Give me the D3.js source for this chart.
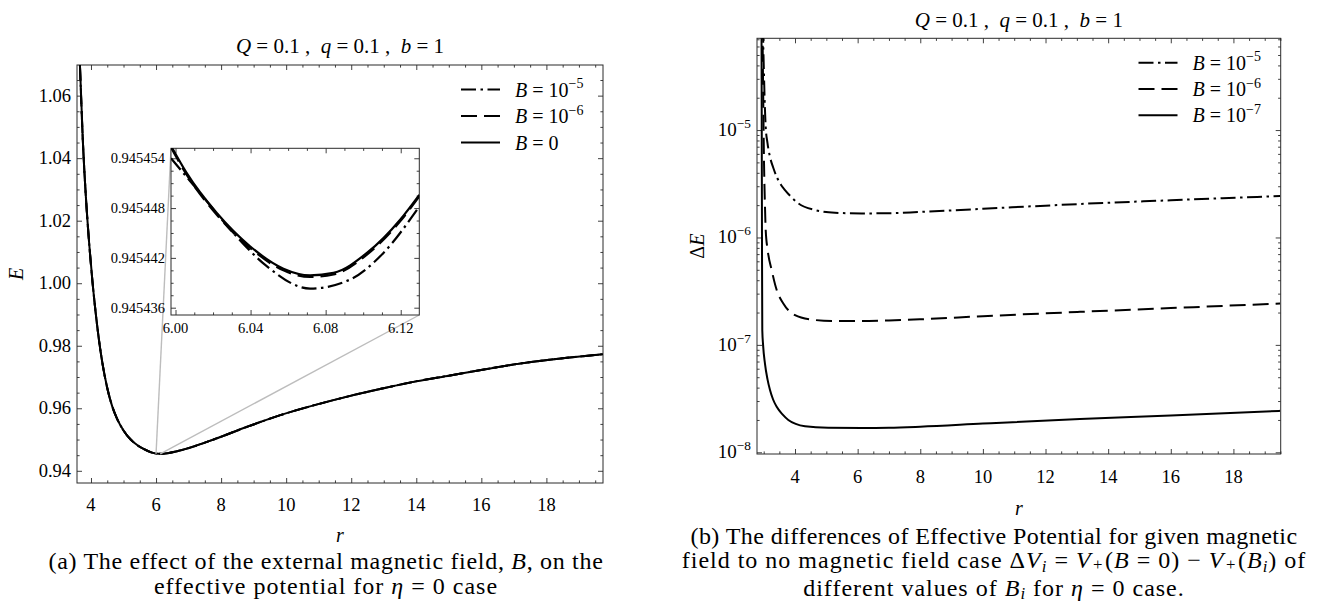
<!DOCTYPE html>
<html>
<head>
<meta charset="utf-8">
<script src="https://cdn.jsdelivr.net/npm/d3@7"></script>
<style>
  body { margin: 0; background: #fff; }
  svg text { font-family: "Liberation Serif", "Times New Roman", serif; fill: #000; white-space: pre; }
</style>
</head>
<body>
<div id="chart"></div>
<script>

// ---------- data ----------

// (a) main panel: E(r); the three B curves coincide at this scale
var rMain = [3.66, 3.75, 3.85, 3.95, 4.05, 4.15, 4.25, 4.35, 4.50, 4.65, 4.80, 5.00, 5.22, 5.45, 5.63, 5.85, 6.07,
             6.35, 6.70, 7.74, 8.78, 9.82, 10.87, 11.91, 12.95, 13.99, 15.04, 16.08, 17.12, 18.16, 19.77];
var eMain = [1.0698, 1.0455, 1.0265, 1.0120, 1.0000, 0.9900, 0.9815, 0.9745, 0.9665, 0.9607, 0.9567, 0.9529, 0.9500, 0.9480, 0.9469, 0.9459, 0.94544,
             0.94563, 0.9464, 0.9499, 0.9540, 0.9578, 0.9610, 0.9638, 0.9663, 0.9686, 0.9705, 0.9724, 0.9742, 0.9756, 0.9773];

// (a) inset near the minimum
var rInset = [5.9976, 6.006, 6.022, 6.0397, 6.0575, 6.0717, 6.0842, 6.102, 6.1197, 6.1299];
var eInsetB0 = [0.9454555, 0.9454522, 0.9454474, 0.9454434, 0.9454407, 0.9454399, 0.9454402, 0.9454426, 0.9454466, 0.9454496];
var eInsetB6 = [0.9454553, 0.9454520, 0.9454472, 0.9454432, 0.9454405, 0.9454397, 0.9454400, 0.9454424, 0.9454464, 0.9454494];
var rInsetB5 = [5.9976, 6.0131, 6.0308, 6.0486, 6.0717, 6.0931, 6.1108, 6.1299];
var eInsetB5 = [0.9454540, 0.9454498, 0.9454450, 0.9454410, 0.9454383, 0.9454394, 0.9454426, 0.9454482];

// (b) Delta E(r) for each B
var rDiffB5 = [2.975, 2.99, 3.01, 3.035, 3.064, 3.12, 3.20, 3.30, 3.415, 3.55, 3.68, 3.90, 4.105, 4.638, 5.277, 6.13, 7.0, 8.0, 10.0, 13.1, 16.0, 19.49];
var dDiffB5 = [9e-5, 5.5e-5, 3.2e-5, 1.7e-5, 1.07e-5, 7.6e-6, 5.64e-6, 4.5e-6, 3.67e-6, 3.1e-6, 2.76e-6, 2.35e-6, 2.08e-6, 1.80e-6, 1.70e-6, 1.675e-6, 1.68e-6, 1.73e-6, 1.85e-6, 2.05e-6, 2.22e-6, 2.43e-6];
var rDiffB6 = [2.96, 2.985, 3.01, 3.04, 3.064, 3.128, 3.255, 3.415, 3.626, 4.0, 4.53, 5.17, 6.13, 7.0, 8.0, 10.0, 13.1, 16.0, 19.49];
var dDiffB6 = [1e-4, 2e-5, 5e-6, 2e-6, 1.17e-6, 7.6e-7, 4.97e-7, 3.24e-7, 2.43e-7, 1.89e-7, 1.72e-7, 1.67e-7, 1.67e-7, 1.69e-7, 1.73e-7, 1.85e-7, 2.03e-7, 2.2e-7, 2.43e-7];
var rDiffB7 = [2.93, 2.945, 2.955, 2.98, 3.04, 3.12, 3.201, 3.30, 3.415, 3.60, 3.786, 4.32, 5.06, 6.13, 7.0, 8.0, 10.0, 13.1, 16.0, 19.49];
var dDiffB7 = [1e-4, 1e-6, 1.37e-7, 1e-7, 6.7e-8, 4.8e-8, 3.8e-8, 3.1e-8, 2.65e-8, 2.25e-8, 2.0e-8, 1.75e-8, 1.69e-8, 1.68e-8, 1.69e-8, 1.73e-8, 1.85e-8, 2.04e-8, 2.2e-8, 2.43e-8];

// ticks
var xTicksMain = [4, 6, 8, 10, 12, 14, 16, 18];
var yTicksMain = [0.94, 0.96, 0.98, 1.00, 1.02, 1.04, 1.06];
var xTicksInset = [6.00, 6.04, 6.08, 6.12];
var yTicksInset = [0.945436, 0.945442, 0.945448, 0.945454];
var xTicksDiff = [4, 6, 8, 10, 12, 14, 16, 18];
var yTicksDiff = [-8, -7, -6, -5];   // powers of ten

// legends
var legendA = [{exp: "\u22125", dash: "dashdot"}, {exp: "\u22126", dash: "dashed"}, {exp: null, dash: "solid"}];
var legendB = [{exp: "\u22125", dash: "dashdot"}, {exp: "\u22126", dash: "dashed"}, {exp: "\u22127", dash: "solid"}];

// ---------- drawing ----------

var dashes = {dashdot: "15,4.5,2.5,4.5", dashed: "16,7", solid: null};
var frameColor = "#2b2b2b";

var svg = d3.select("#chart").append("svg")
    .attr("width", 1327)
    .attr("height", 606)
    .style("background", "#fff");

// writes a text made of pieces (italic / superscript / subscript)
function rich(text, parts, size) {
  var shift = 0;
  parts.forEach(function (p) {
    var target = p.sup ? -0.42 * size : (p.sub ? (p.low || 0.15) * size : 0);
    var ts = text.append("tspan").text(p.t).attr("dy", target - shift);
    if (p.i) ts.attr("font-style", "italic");
    if (p.sup || p.sub) ts.attr("font-size", size * 0.7);
    if (p.dx) ts.attr("dx", p.dx);
    shift = target;
  });
  return text;
}

function minorRange(a, b, step) {
  var out = [];
  for (var v = a; v <= b + step / 1000; v += step) out.push(+v.toFixed(9));
  return out;
}

// frame and inward ticks on all four sides
function frameTicks(g, x, y, w, h, xMaj, xMin, yMaj, yMin, big, small) {
  function add(axis, tr) {
    g.append("g").attr("transform", tr).call(axis)
      .call(function (s) { s.select(".domain").remove(); s.selectAll("text").remove(); })
      .selectAll("line").attr("stroke", frameColor).attr("stroke-width", 0.9);
  }
  add(d3.axisBottom(x).tickValues(xMaj).tickSize(-big), "translate(0," + h + ")");
  add(d3.axisBottom(x).tickValues(xMin).tickSize(-small), "translate(0," + h + ")");
  add(d3.axisTop(x).tickValues(xMaj).tickSize(-big), "translate(0,0)");
  add(d3.axisTop(x).tickValues(xMin).tickSize(-small), "translate(0,0)");
  add(d3.axisLeft(y).tickValues(yMaj).tickSize(-big), "translate(0,0)");
  add(d3.axisLeft(y).tickValues(yMin).tickSize(-small), "translate(0,0)");
  add(d3.axisRight(y).tickValues(yMaj).tickSize(-big), "translate(" + w + ",0)");
  add(d3.axisRight(y).tickValues(yMin).tickSize(-small), "translate(" + w + ",0)");
  g.append("rect").attr("width", w).attr("height", h)
    .attr("fill", "none").attr("stroke", frameColor).attr("stroke-width", 1);
}

function drawLine(g, x, y, rs, vs, dash, clipId, width) {
  var pts = rs.map(function (r, i) { return [r, vs[i]]; });
  g.append("path")
    .datum(pts)
    .attr("clip-path", "url(#" + clipId + ")")
    .attr("fill", "none")
    .attr("stroke", "#000")
    .attr("stroke-width", width || 2)
    .attr("stroke-dasharray", dashes[dash])
    .attr("d", d3.line().curve(d3.curveMonotoneX)
      .x(function (d) { return x(d[0]); })
      .y(function (d) { return y(d[1]); }));
}

function addClip(id, w, h) {
  svg.append("clipPath").attr("id", id).append("rect").attr("width", w).attr("height", h);
}

function legend(g, items, x0, y0, step) {
  items.forEach(function (it, i) {
    var yy = y0 + i * step;
    g.append("line").attr("x1", x0).attr("x2", x0 + 39).attr("y1", yy).attr("y2", yy)
      .attr("stroke", "#000").attr("stroke-width", 2).attr("stroke-dasharray", dashes[it.dash]);
    var t = g.append("text").attr("x", x0 + 54).attr("y", yy + 7).attr("font-size", 20);
    if (it.exp) rich(t, [{t: "B", i: true}, {t: " = 10"}, {t: it.exp, sup: true}], 20);
    else rich(t, [{t: "B", i: true}, {t: " = 0"}], 20);
  });
}

// ===== panel (a) =====
var A = {left: 77, top: 65, w: 526, h: 418};
var xA = d3.scaleLinear().domain([3.57, 19.74]).range([0, A.w]);
var yA = d3.scaleLinear().domain([0.9361, 1.0698]).range([A.h, 0]);
var gA = svg.append("g").attr("transform", "translate(" + A.left + "," + A.top + ")");
addClip("clipA", A.w, A.h);

frameTicks(gA, xA, yA, A.w, A.h, xTicksMain, minorRange(3.5, 19.5, 0.5).filter(function (v) { return v > 3.57 && v % 2 !== 0; }),
  yTicksMain, minorRange(0.945, 1.065, 0.005).filter(function (v) { return Math.round(v * 1000) % 20 !== 0; }), 5, 2.6);

drawLine(gA, xA, yA, rMain, eMain, "dashdot", "clipA");
drawLine(gA, xA, yA, rMain, eMain, "dashed", "clipA");
drawLine(gA, xA, yA, rMain, eMain, "solid", "clipA");

gA.selectAll(".xl").data(xTicksMain).enter().append("text")
  .attr("x", function (d) { return xA(d); }).attr("y", A.h + 28)
  .attr("text-anchor", "middle").attr("font-size", 18.5).text(function (d) { return d; });
gA.selectAll(".yl").data(yTicksMain).enter().append("text")
  .attr("x", -6).attr("y", function (d) { return yA(d) + 6; })
  .attr("text-anchor", "end").attr("font-size", 18.5).text(function (d) { return d.toFixed(2); });

// inset
var I = {left: 171 - A.left, top: 148.3 - A.top, w: 248.3, h: 166.7};
var xI = d3.scaleLinear().domain([5.9976, 6.1299]).range([0, I.w]);
var yI = d3.scaleLinear().domain([0.94543512, 0.9454552]).range([I.h, 0]);

// connector lines from the zoomed region to the inset corners
gA.append("line").attr("x1", xA(6.0)).attr("y1", yA(0.9454552)).attr("x2", I.left).attr("y2", I.top)
  .attr("stroke", "#bdbdbd").attr("stroke-width", 1.4);
gA.append("line").attr("x1", xA(6.1299)).attr("y1", yA(0.94543512)).attr("x2", I.left + I.w).attr("y2", I.top + I.h)
  .attr("stroke", "#bdbdbd").attr("stroke-width", 1.4);

var gI = gA.append("g").attr("transform", "translate(" + I.left + "," + I.top + ")");
addClip("clipI", I.w, I.h);
gI.append("rect").attr("width", I.w).attr("height", I.h).attr("fill", "#fff");
frameTicks(gI, xI, yI, I.w, I.h, xTicksInset, [6.01, 6.02, 6.03, 6.05, 6.06, 6.07, 6.09, 6.10, 6.11],
  yTicksInset, [0.9454375, 0.945439, 0.9454405, 0.9454435, 0.945445, 0.9454465, 0.9454495, 0.945451, 0.9454525], 5, 2.6);

drawLine(gI, xI, yI, rInsetB5, eInsetB5, "dashdot", "clipI", 2.2);
drawLine(gI, xI, yI, rInset, eInsetB6, "dashed", "clipI", 2.2);
drawLine(gI, xI, yI, rInset, eInsetB0, "solid", "clipI", 2.2);

gI.selectAll(".xl").data(xTicksInset).enter().append("text")
  .attr("x", function (d) { return xI(d); }).attr("y", I.h + 18)
  .attr("text-anchor", "middle").attr("font-size", 14.5).text(function (d) { return d.toFixed(2); });
gI.selectAll(".yl").data(yTicksInset).enter().append("text")
  .attr("x", -6).attr("y", function (d) { return yI(d) + 5; })
  .attr("text-anchor", "end").attr("font-size", 14.5).text(function (d) { return d.toFixed(6); });

legend(svg, legendA, 461, 89.5, 26.5);

rich(svg.append("text").attr("x", A.left + A.w / 2).attr("y", 53).attr("text-anchor", "middle").attr("font-size", 21),
  [{t: "Q", i: true}, {t: " = 0.1 ,  "}, {t: "q", i: true}, {t: " = 0.1 ,  "}, {t: "b", i: true}, {t: " = 1"}], 21);
svg.append("text").attr("x", A.left + A.w / 2).attr("y", A.top + A.h + 59).attr("text-anchor", "middle")
  .attr("font-size", 20).attr("font-style", "italic").text("r");
svg.append("text").attr("transform", "translate(23," + (A.top + A.h / 2) + ") rotate(-90)")
  .attr("text-anchor", "middle").attr("font-size", 20).attr("font-style", "italic").text("E");

// ===== panel (b) =====
var Bp = {left: 757, top: 38.3, w: 523.7, h: 415.7};
var xB = d3.scaleLinear().domain([2.786, 19.51]).range([0, Bp.w]);
var yB = d3.scaleLog().domain([9.64e-9, 7.15e-5]).range([Bp.h, 0]);
var gB = svg.append("g").attr("transform", "translate(" + Bp.left + "," + Bp.top + ")");
addClip("clipB", Bp.w, Bp.h);

var logMinor = [];
[-9, -8, -7, -6, -5].forEach(function (p) {
  for (var k = 2; k <= 9; k++) {
    var v = k * Math.pow(10, p);
    if (v > 9.64e-9 && v < 7.15e-5) logMinor.push(v);
  }
});
frameTicks(gB, xB, yB, Bp.w, Bp.h, xTicksDiff, minorRange(3, 19.5, 0.5).filter(function (v) { return v % 2 !== 0; }),
  yTicksDiff.map(function (p) { return Math.pow(10, p); }), logMinor, 5, 2.6);

drawLine(gB, xB, yB, rDiffB5, dDiffB5, "dashdot", "clipB");
drawLine(gB, xB, yB, rDiffB6, dDiffB6, "dashed", "clipB");
drawLine(gB, xB, yB, rDiffB7, dDiffB7, "solid", "clipB");

gB.selectAll(".xl").data(xTicksDiff).enter().append("text")
  .attr("x", function (d) { return xB(d); }).attr("y", Bp.h + 29)
  .attr("text-anchor", "middle").attr("font-size", 18.5).text(function (d) { return d; });
yTicksDiff.forEach(function (p) {
  var t = gB.append("text").attr("x", -6).attr("y", yB(Math.pow(10, p)) + 6)
    .attr("text-anchor", "end").attr("font-size", 19);
  rich(t, [{t: "10"}, {t: "\u2212" + (-p), sup: true}], 19);
});

legend(svg, legendB, 1138.5, 62.7, 26.3);

rich(svg.append("text").attr("x", Bp.left + Bp.w / 2).attr("y", 27).attr("text-anchor", "middle").attr("font-size", 21),
  [{t: "Q", i: true}, {t: " = 0.1 ,  "}, {t: "q", i: true}, {t: " = 0.1 ,  "}, {t: "b", i: true}, {t: " = 1"}], 21);
svg.append("text").attr("x", Bp.left + Bp.w / 2).attr("y", Bp.top + Bp.h + 61).attr("text-anchor", "middle")
  .attr("font-size", 20).attr("font-style", "italic").text("r");
var yl = svg.append("text").attr("transform", "translate(704," + (Bp.top + Bp.h / 2) + ") rotate(-90)")
  .attr("text-anchor", "middle").attr("font-size", 20);
rich(yl, [{t: "\u0394"}, {t: "E", i: true}], 20);

// ===== captions (spread to the width the reference lines take) =====
var capSize = 24;
function caption(cx, cy, width, parts) {
  var t = svg.append("text").attr("x", cx).attr("y", cy).attr("text-anchor", "middle").attr("font-size", capSize);
  rich(t, parts, capSize);
  var natural = t.node().getComputedTextLength();
  var chars = parts.map(function (p) { return p.t; }).join("").length;
  t.attr("letter-spacing", Math.max(-0.5, Math.min(1, (width - natural) / chars)));
}
caption(326, 569, 555, [{t: "(a) The effect of the external magnetic field, "}, {t: "B", i: true}, {t: ", on the"}]);
caption(326, 593.5, 386, [{t: "effective potential for "}, {t: "\u03B7", i: true}, {t: " = 0 case"}]);
caption(994, 544, 607, [{t: "(b) The differences of Effective Potential for given magnetic"}]);
caption(994, 568, 662, [{t: "field to no magnetic field case \u0394"}, {t: "V", i: true}, {t: "i", i: true, sub: true},
  {t: " = "}, {t: "V", i: true}, {t: "+", sub: true, low: 0.08, dx: 1.5}, {t: "(", dx: 1.5}, {t: "B", i: true}, {t: " = 0) \u2212 "},
  {t: "V", i: true}, {t: "+", sub: true, low: 0.08, dx: 1.5}, {t: "(", dx: 1.5}, {t: "B", i: true}, {t: "i", i: true, sub: true}, {t: ") of"}]);
caption(994, 595.5, 397, [{t: "different values of "}, {t: "B", i: true}, {t: "i", i: true, sub: true}, {t: " for "},
  {t: "\u03B7", i: true}, {t: " = 0 case."}]);

</script>
</body>
</html>
